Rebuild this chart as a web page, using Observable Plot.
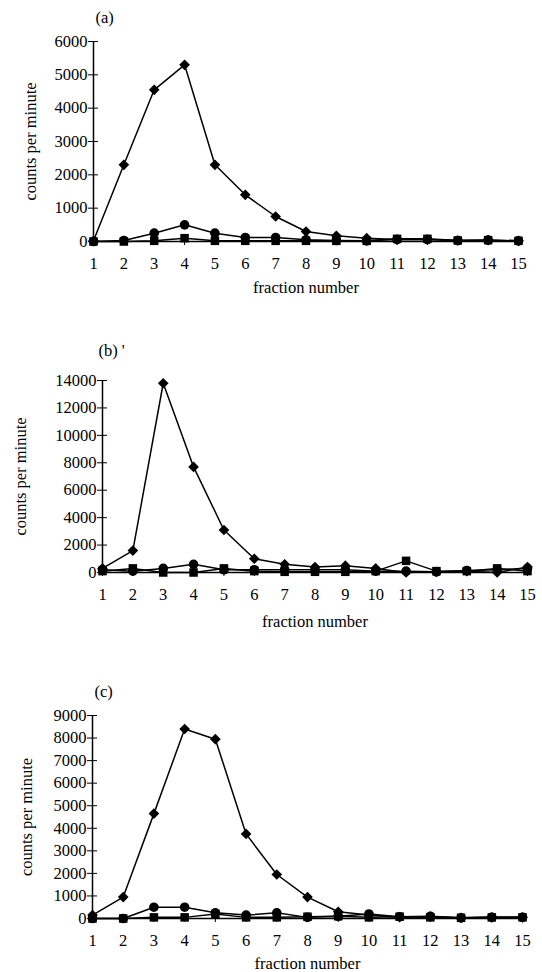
<!DOCTYPE html>
<html>
<head>
<meta charset="utf-8">
<script src="https://cdn.jsdelivr.net/npm/d3@7"></script>
<script src="https://cdn.jsdelivr.net/npm/@observablehq/plot@0.6"></script>
<style>
  html, body { margin: 0; padding: 0; background: #fff; }
  #wrap { position: relative; width: 542px; height: 972px; }
  #wrap > svg { position: absolute; left: 0; }
</style>
</head>
<body>
<div id="wrap"></div>
<script>
const fractions = [1, 2, 3, 4, 5, 6, 7, 8, 9, 10, 11, 12, 13, 14, 15];

// Panel (a)
const aDiamond = [20, 2300, 4550, 5300, 2300, 1400, 750, 300, 170, 100, 60, 60, 30, 40, 20];
const aCircle  = [0, 30, 250, 500, 250, 120, 120, 50, 30, 20, 60, 60, 30, 40, 20];
const aSquare  = [0, 0, 20, 100, 20, 20, 20, 20, 20, 20, 80, 80, 30, 40, 20];
const aTicks = [0, 1000, 2000, 3000, 4000, 5000, 6000];

// Panel (b)
const bDiamond = [300, 1600, 13800, 7700, 3100, 1000, 600, 400, 500, 300, 0, 50, 100, 0, 400];
const bCircle  = [200, 100, 300, 600, 200, 200, 200, 200, 200, 100, 100, 50, 150, 200, 300];
const bSquare  = [100, 300, 0, 0, 300, 100, 50, 50, 50, 100, 850, 100, 100, 300, 100];
const bTicks = [0, 2000, 4000, 6000, 8000, 10000, 12000, 14000];

// Panel (c)
const cDiamond = [150, 950, 4650, 8400, 7950, 3750, 1950, 950, 300, 150, 60, 80, 30, 50, 50];
const cCircle  = [0, 0, 500, 500, 250, 150, 250, 50, 100, 200, 80, 100, 30, 50, 50];
const cSquare  = [0, 0, 50, 50, 200, 50, 50, 80, 100, 50, 80, 50, 30, 50, 50];
const cTicks = [0, 1000, 2000, 3000, 4000, 5000, 6000, 7000, 8000, 9000];

const tags = ["(a)", "(b) '", "(c)"];
const yLabel = "counts per minute";
const xLabel = "fraction number";

function rows(dia, cir, sq) {
  const out = [];
  fractions.forEach((f, i) => out.push({f, v: dia[i], s: "diamond2", k: "d"}));
  fractions.forEach((f, i) => out.push({f, v: cir[i], s: "circle", k: "c"}));
  fractions.forEach((f, i) => out.push({f, v: sq[i], s: "square", k: "s"}));
  return out;
}

function panel(cfg) {
  const data = rows(cfg.dia, cfg.cir, cfg.sq);
  const yMax = cfg.ticks[cfg.ticks.length - 1];
  const svg = Plot.plot({
    width: 542,
    height: cfg.height,
    marginTop: cfg.mt,
    marginBottom: cfg.mb,
    marginLeft: cfg.ml,
    marginRight: cfg.mr,
    style: {fontFamily: "'Liberation Serif', serif", fontSize: "16px", color: "#000", background: "#fff"},
    x: {domain: [1, 15]},
    y: {domain: [0, yMax]},
    symbol: {type: "identity"},
    marks: [
      Plot.axisY({ticks: cfg.ticks, tickSize: 5, tickPadding: 1, tickFormat: d => String(d),
        label: yLabel, labelAnchor: "center", labelArrow: "none", labelOffset: cfg.ylo, fontSize: 16.5}),
      Plot.axisY({ticks: cfg.ticks, tickSize: 5, dx: 5, text: null, label: null}),
      Plot.axisX({ticks: fractions, tickSize: 4, tickPadding: 12, tickFormat: d => String(d),
        label: xLabel, labelAnchor: "center", labelArrow: "none", labelOffset: cfg.xlo, fontSize: 16.5}),
      Plot.axisX({ticks: fractions, tickSize: 4, dy: -4, text: null, label: null}),
      Plot.ruleX([1], {y1: 0, y2: yMax, stroke: "#000", strokeWidth: 1.5}),
      Plot.ruleY([0], {x1: 1, x2: 15, stroke: "#000", strokeWidth: 1.5}),
      Plot.line(data, {x: "f", y: "v", z: "k", stroke: "#000", strokeWidth: 1.5}),
      Plot.dot(data, {x: "f", y: "v", symbol: "s", fill: "#000", stroke: "none", r: 4.8}),
      Plot.text([cfg.tag], {frameAnchor: "top-left", dx: cfg.tdx, dy: cfg.tdy, textAnchor: "start", fontSize: 16.5})
    ]
  });
  svg.style.top = cfg.top + "px";
  return svg;
}

const wrap = document.getElementById("wrap");
wrap.appendChild(panel({tag: tags[0], dia: aDiamond, cir: aCircle, sq: aSquare, ticks: aTicks,
  top: 0, height: 310, mt: 41, mb: 69, ml: 93, mr: 24, ylo: 69, xlo: 51, tdx: 2, tdy: -30}));
wrap.appendChild(panel({tag: tags[1], dia: bDiamond, cir: bCircle, sq: bSquare, ticks: bTicks,
  top: 310, height: 320, mt: 70, mb: 58, ml: 102, mr: 15, ylo: 88, xlo: 54, tdx: -4, tdy: -36}));
wrap.appendChild(panel({tag: tags[2], dia: cDiamond, cir: cCircle, sq: cSquare, ticks: cTicks,
  top: 630, height: 342, mt: 85, mb: 54, ml: 92, mr: 20, ylo: 72, xlo: 50, tdx: 2, tdy: -30}));
</script>
</body>
</html>
